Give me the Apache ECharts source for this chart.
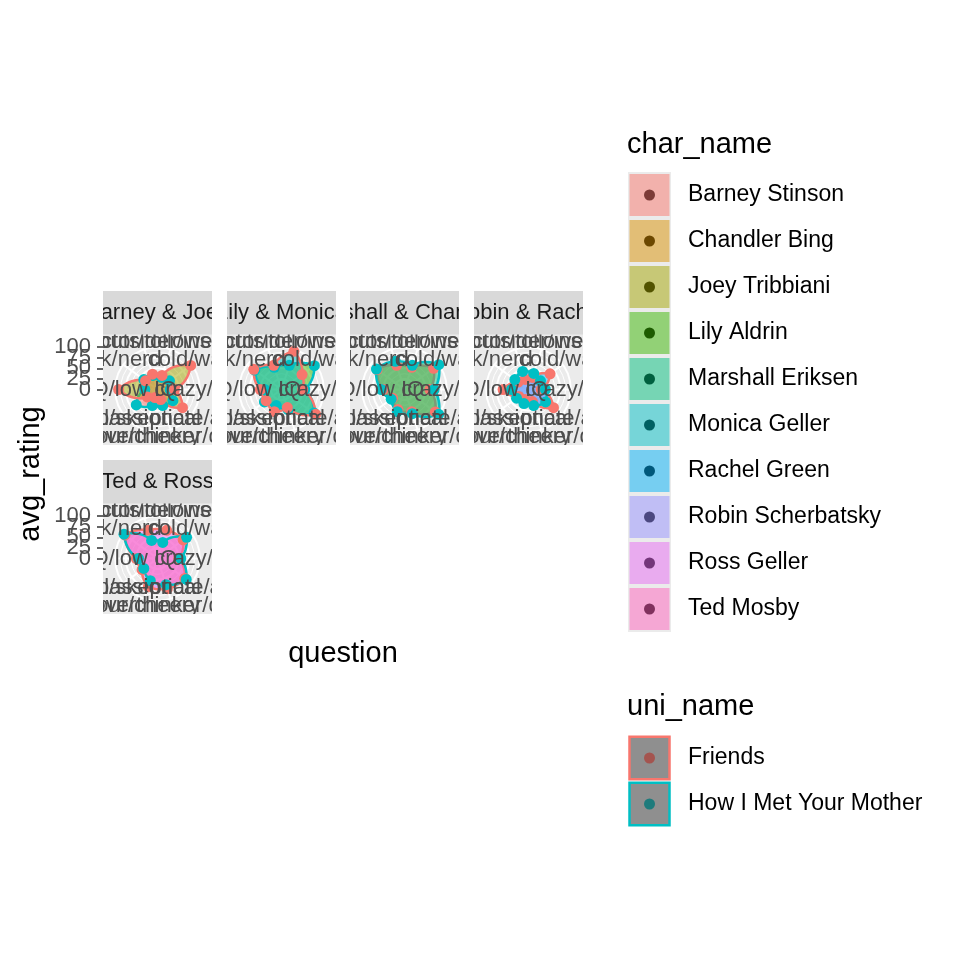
<!DOCTYPE html>
<html><head><meta charset="utf-8">
<script src="https://cdn.jsdelivr.net/npm/echarts@6/dist/echarts.min.js"></script>
<style>
html,body{margin:0;padding:0;background:#fff;}
#main{position:absolute;left:0;top:0;width:960px;height:960px;}
.facet{position:absolute;width:109px;height:154px;}
</style></head><body>
<div id="main"></div>
<div id="f0" class="facet" style="left:103px;top:291px"></div>
<div id="f1" class="facet" style="left:227px;top:291px"></div>
<div id="f2" class="facet" style="left:350px;top:291px"></div>
<div id="f3" class="facet" style="left:474px;top:291px"></div>
<div id="f4" class="facet" style="left:103px;top:460px"></div>
<script>
// ---------- data ----------
const questions = [
  'outsider/insider', 'cold/warm', 'crazy/sane', 'passionate/apathetic', 'overthinker/doer',
  'dour/cheery', 'spiritual/skeptical', 'high IQ/low IQ', 'jock/nerd', 'director/follower'
];
const charNames = ['Barney Stinson', 'Chandler Bing', 'Joey Tribbiani', 'Lily Aldrin', 'Marshall Eriksen',
  'Monica Geller', 'Rachel Green', 'Robin Scherbatsky', 'Ross Geller', 'Ted Mosby'];
const uniNames = ['Friends', 'How I Met Your Mother'];
const facetNames = ['Barney & Joey', 'Lily & Monica', 'Marshall & Chandler', 'Robin & Rachel', 'Ted & Ross'];
const facetMembers = [
  ['Barney Stinson', 'Joey Tribbiani'],
  ['Lily Aldrin', 'Monica Geller'],
  ['Chandler Bing', 'Marshall Eriksen'],
  ['Rachel Green', 'Robin Scherbatsky'],
  ['Ross Geller', 'Ted Mosby']
];
const ratingBreaks = [0, 25, 50, 75, 100];

const barneyStinson    = [30, 35, 30, 45, 40, 40, 62, 30, 40, 35];
const joeyTribbiani    = [35, 97, 40, 73, 25, 20, 30, 92, 35, 38];
const lilyAldrin       = [60, 96, 55, 95, 50, 40, 50, 40, 78, 55];
const monicaGeller     = [95, 60, 50, 100, 45, 55, 45, 50, 81, 60];
const chandlerBing     = [55, 85, 60, 90, 55, 50, 35, 50, 80, 60];
const marshallEriksen  = [60, 100, 70, 100, 60, 55, 39, 55, 82, 70];
const rachelGreen      = [30, 63, 30, 73, 30, 25, 28, 60, 30, 25];
const robinScherbatsky = [40, 35, 40, 50, 40, 35, 35, 40, 40, 45];
const rossGeller       = [70, 75, 50, 80, 75, 70, 45, 50, 95, 70];
const tedMosby         = [40, 85, 55, 84, 65, 55, 40, 45, 98, 45];

const ratings = {
  'Barney Stinson': barneyStinson, 'Joey Tribbiani': joeyTribbiani, 'Lily Aldrin': lilyAldrin,
  'Monica Geller': monicaGeller, 'Chandler Bing': chandlerBing, 'Marshall Eriksen': marshallEriksen,
  'Rachel Green': rachelGreen, 'Robin Scherbatsky': robinScherbatsky, 'Ross Geller': rossGeller, 'Ted Mosby': tedMosby
};
const charUniverse = {
  'Barney Stinson': 'How I Met Your Mother', 'Lily Aldrin': 'How I Met Your Mother', 'Marshall Eriksen': 'How I Met Your Mother',
  'Robin Scherbatsky': 'How I Met Your Mother', 'Ted Mosby': 'How I Met Your Mother',
  'Chandler Bing': 'Friends', 'Joey Tribbiani': 'Friends', 'Monica Geller': 'Friends', 'Rachel Green': 'Friends', 'Ross Geller': 'Friends'
};

// ---------- styles ----------
const FONT = "'Liberation Sans', Arial, Helvetica, sans-serif";
const charColors = ['#F8766D', '#D89000', '#A3A500', '#39B600', '#00BF7D', '#00BFC4', '#00B0F6', '#9590FF', '#E76BF3', '#FF62BC'];
const uniColors = ['#F8766D', '#00BFC4'];
const uniDots = ['#A4544F', '#1E7B7C'];
const charColor = n => charColors[charNames.indexOf(n)];
const uniColor = n => uniColors[uniNames.indexOf(n)];

function hexToRgb(h) { h = h.replace('#', ''); return [0, 2, 4].map(i => parseInt(h.substr(i, 2), 16)); }
function rgba(h, a) { const c = hexToRgb(h); return `rgba(${c[0]},${c[1]},${c[2]},${a})`; }
function mix(h1, h2, t) { const a = hexToRgb(h1), b = hexToRgb(h2); return 'rgb(' + a.map((v, i) => Math.round(v * (1 - t) + b[i] * t)).join(',') + ')'; }

const PANEL_R = 42.3;               // px radius of value 100
const LABEL_R = 100 * 50 / PANEL_R; // theta labels at 0.45 of panel
const CY = 43 + 55.5;
const N = questions.length;
const START = 90 - 180 / N;         // first category half a step clockwise from 12 o'clock

function facetOption(k) {
  const members = facetMembers[k];
  const STEPS = 10;
  return {
    animation: false,
    backgroundColor: '#EBEBEB',
    title: {
      text: facetNames[k], left: 'center', top: 0, padding: [11, 300, 11, 300],
      backgroundColor: '#D9D9D9',
      textStyle: { fontSize: 22, lineHeight: 21, color: '#1A1A1A', fontWeight: 'normal', fontFamily: FONT }
    },
    polar: { center: [54.5, CY], radius: PANEL_R },
    angleAxis: {
      type: 'value', min: 0, max: N, interval: 1, startAngle: START, clockwise: true,
      axisLine: { show: false }, axisTick: { show: false }, axisLabel: { show: false },
      splitLine: { show: true, lineStyle: { color: '#FFFFFF', width: 2 } }
    },
    radiusAxis: {
      type: 'value', min: ratingBreaks[0], max: ratingBreaks[ratingBreaks.length - 1], interval: 25,
      axisLine: { show: false }, axisTick: { show: false }, axisLabel: { show: false },
      splitLine: { show: true, lineStyle: { color: '#FFFFFF', width: 2 } },
      minorTick: { show: false, splitNumber: 2 },
      minorSplitLine: { show: true, lineStyle: { color: '#FFFFFF', width: 1 } }
    },
    series: [
      {
        type: 'custom', coordinateSystem: 'polar', z: 2,
        data: members.map(m => ratings[m]),
        renderItem: function (params, api) {
          const m = members[params.dataIndex];
          const pts = [];
          for (let i = 0; i < N; i++) {
            const r0 = api.value(i), r1 = api.value((i + 1) % N);
            for (let s = 0; s < STEPS; s++) {
              const t = s / STEPS;
              pts.push(api.coord([r0 + (r1 - r0) * t, i + t]));
            }
          }
          return {
            type: 'polygon', shape: { points: pts },
            style: { fill: rgba(charColor(m), 0.5), stroke: uniColor(charUniverse[m]), lineWidth: 2.5 }
          };
        }
      }
    ].concat(members.map(m => ({
      type: 'scatter', coordinateSystem: 'polar', z: 3, symbolSize: 11,
      data: ratings[m].map((v, i) => [v, i]),
      itemStyle: { color: uniColor(charUniverse[m]), opacity: 1 }
    }))).concat([{
      type: 'custom', coordinateSystem: 'polar', z: 5,
      data: questions.map((q, i) => i),
      renderItem: function (params, api) {
        const p = api.coord([LABEL_R, api.value(0)]);
        return {
          type: 'text', x: p[0], y: p[1],
          style: { text: questions[params.dataIndex], fontSize: 22, fontFamily: FONT, fill: '#4D4D4D', align: 'center', verticalAlign: 'middle' }
        };
      }
    }])
  };
}

for (let k = 0; k < facetNames.length; k++) {
  const c = echarts.init(document.getElementById('f' + k), null, { renderer: 'canvas' });
  c.setOption(facetOption(k));
}

// ---------- main chart: axes, titles, legends ----------
function keyIcon(fill, stroke, dot) {
  let inner;
  if (stroke) inner = `<rect x="1.5" y="1.75" width="40" height="42.5" fill="${fill}" stroke="${stroke}" stroke-width="2.5"/>`;
  else inner = `<rect x="1.5" y="2" width="40" height="42" fill="${fill}"/>`;
  const svg = `<svg xmlns="http://www.w3.org/2000/svg" width="55" height="46" viewBox="0 0 55 46">` +
    (stroke ? '' : `<rect x="0" y="0" width="43" height="46" fill="#EBEBEB"/>`) + inner +
    `<circle cx="21.5" cy="23" r="5.5" fill="${dot}"/></svg>`;
  return 'image://data:image/svg+xml;charset=utf-8,' + encodeURIComponent(svg);
}

// radial (avg_rating) scale drawn to the left of each panel row: evenly spaced breaks
const tickAxis = (gi) => ({
  gridIndex: gi, type: 'category', boundaryGap: false, data: ratingBreaks.map(String),
  axisLine: { show: false },
  axisTick: { show: true, length: 6, interval: 0, alignWithLabel: true, lineStyle: { color: '#333333', width: 1.5 } },
  axisLabel: { interval: 0, fontSize: 22, color: '#4D4D4D', margin: 12, fontFamily: FONT, hideOverlap: false },
  splitLine: { show: false }
});

const main = echarts.init(document.getElementById('main'), null, { renderer: 'canvas' });
main.setOption({
  animation: false,
  backgroundColor: '#FFFFFF',
  title: [
    { text: 'char_name', left: 627, top: 130, padding: 0, textStyle: { fontSize: 29, lineHeight: 29, fontWeight: 'normal', color: '#000', fontFamily: FONT } },
    { text: 'uni_name', left: 627, top: 692, padding: 0, textStyle: { fontSize: 29, lineHeight: 29, fontWeight: 'normal', color: '#000', fontFamily: FONT } }
  ],
  legend: [
    {
      orient: 'vertical', left: 628, top: 172, padding: 0, itemWidth: 55, itemHeight: 46, itemGap: 0,
      selectedMode: false,
      data: charNames.map(nm => ({ name: nm, icon: keyIcon(mix(charColor(nm), '#EBEBEB', 0.5), null, mix(charColor(nm), '#000000', 0.5)) })),
      textStyle: { fontSize: 23, color: '#000', fontFamily: FONT }
    },
    {
      orient: 'vertical', left: 628, top: 735, padding: 0, itemWidth: 55, itemHeight: 46, itemGap: 0,
      selectedMode: false,
      data: uniNames.map((nm, i) => ({ name: nm, icon: keyIcon('#8F8F8F', uniColors[i], uniDots[i]) })),
      textStyle: { fontSize: 23, color: '#000', fontFamily: FONT }
    }
  ],
  grid: [
    { left: 103, top: 291 + CY - PANEL_R, width: 480, height: PANEL_R },
    { left: 103, top: 460 + CY - PANEL_R, width: 109, height: PANEL_R },
    { left: 103, top: 334, width: 480, height: 280 }
  ],
  xAxis: [
    { gridIndex: 0, type: 'value', show: false },
    { gridIndex: 1, type: 'value', show: false },
    {
      gridIndex: 2, type: 'value', name: 'question', nameLocation: 'middle', nameGap: 25,
      nameTextStyle: { fontSize: 29, color: '#000', fontFamily: FONT },
      axisLine: { show: false }, axisTick: { show: false }, axisLabel: { show: false }, splitLine: { show: false }
    }
  ],
  yAxis: [
    tickAxis(0), tickAxis(1),
    {
      gridIndex: 2, type: 'value', name: 'avg_rating', nameLocation: 'middle', nameGap: 58, nameRotate: 90,
      nameTextStyle: { fontSize: 29, color: '#000', fontFamily: FONT },
      axisLine: { show: false }, axisTick: { show: false }, axisLabel: { show: false }, splitLine: { show: false }
    }
  ],
  series: charNames.concat(uniNames).map(nm => ({ type: 'line', name: nm, data: [], xAxisIndex: 2, yAxisIndex: 2 }))
});
</script>
</body></html>
